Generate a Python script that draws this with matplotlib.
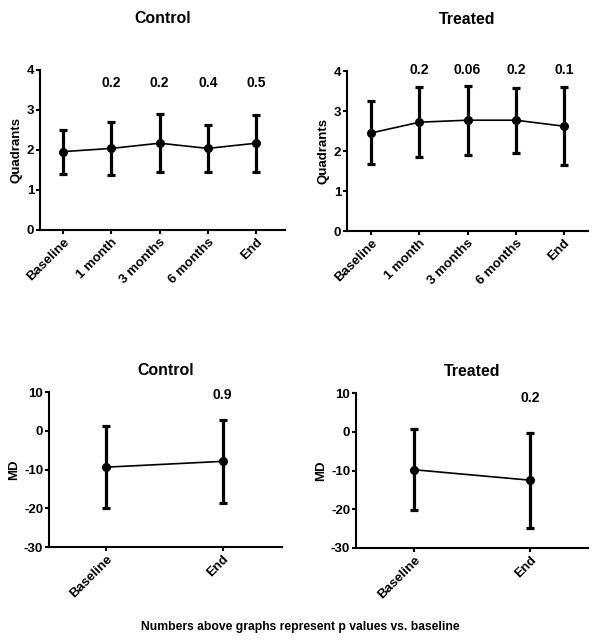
import matplotlib.pyplot as plt
import numpy as np

plt.rcParams['font.family'] = ['Liberation Sans', 'DejaVu Sans']
plt.rcParams['font.weight'] = 'bold'
plt.rcParams['axes.unicode_minus'] = False

# quadrant data
quad_labels = ['Baseline', '1 month', '3 months', '6 months', 'End']
ctrl_quad = [1.96, 2.04, 2.17, 2.04, 2.17]
ctrl_quad_hi = [2.50, 2.71, 2.89, 2.62, 2.87]
ctrl_quad_lo = [1.40, 1.37, 1.44, 1.45, 1.45]
ctrl_quad_p = ['', '0.2', '0.2', '0.4', '0.5']

treat_quad = [2.45, 2.72, 2.77, 2.77, 2.62]
treat_quad_hi = [3.24, 3.60, 3.63, 3.58, 3.59]
treat_quad_lo = [1.67, 1.84, 1.90, 1.96, 1.64]
treat_quad_p = ['', '0.2', '0.06', '0.2', '0.1']

# MD data
md_labels = ['Baseline', 'End']
ctrl_md = [-9.4, -7.9]
ctrl_md_hi = [1.1, 2.8]
ctrl_md_lo = [-19.9, -18.6]
ctrl_md_p = ['', '0.9']

treat_md = [-9.8, -12.5]
treat_md_hi = [0.7, -0.2]
treat_md_lo = [-20.2, -24.8]
treat_md_p = ['', '0.2']

W, H = 600, 641
fig = plt.figure(figsize=(W / 100, H / 100), dpi=100)


def make_ax(x0, x1, ytop, ybot):
    return fig.add_axes([x0 / W, 1 - ybot / H, (x1 - x0) / W, (ybot - ytop) / H])


def panel(ax, labels, mean, hi, lo, pvals, title, ylabel, ylim, yticks, ptext_y, xpad, tpad):
    x = np.arange(len(labels))
    mean = np.array(mean)
    err = [mean - np.array(lo), np.array(hi) - mean]
    ax.errorbar(x, mean, yerr=err, fmt='none', ecolor='black', elinewidth=2.3,
                capsize=2.6, capthick=2.3, zorder=2)
    ax.plot(x, mean, color='black', lw=1.2, marker='o', ms=5.5, zorder=3)
    for xi, p in zip(x, pvals):
        if p:
            ax.text(xi, ptext_y, p, ha='center', va='center', fontsize=10, fontweight='bold')
    ax.set_xlim(xpad[0], len(labels) - 1 + xpad[1])
    ax.set_ylim(*ylim)
    ax.set_yticks(yticks)
    ax.set_xticks(x)
    ax.set_xticklabels(labels, rotation=45, ha='right', rotation_mode='anchor')
    ax.set_ylabel(ylabel, fontsize=9.5, fontweight='bold', labelpad=3)
    ax.set_title(title, fontsize=11.4, fontweight='bold', pad=tpad)
    for s in ['top', 'right']:
        ax.spines[s].set_visible(False)
    for s in ['left', 'bottom']:
        ax.spines[s].set_linewidth(1.5)
    ax.tick_params(width=1.5, length=3.2, labelsize=9.5, pad=1)


ax1 = make_ax(40, 285, 70, 230)
panel(ax1, quad_labels, ctrl_quad, ctrl_quad_hi, ctrl_quad_lo, ctrl_quad_p,
      'Control', 'Quadrants', (0, 4), [0, 1, 2, 3, 4], 3.67, (-0.48, 0.6), 34)

ax2 = make_ax(347, 588, 71, 231)
panel(ax2, quad_labels, treat_quad, treat_quad_hi, treat_quad_lo, treat_quad_p,
      'Treated', 'Quadrants', (0, 4), [0, 1, 2, 3, 4], 4.03, (-0.5, 0.5), 34)

ax3 = make_ax(49, 282, 392, 547)
panel(ax3, md_labels, ctrl_md, ctrl_md_hi, ctrl_md_lo, ctrl_md_p,
      'Control', 'MD', (-30, 10), [-30, -20, -10, 0, 10], 9.3, (-0.49, 0.51), 12)

ax4 = make_ax(356, 588, 393, 548)
panel(ax4, md_labels, treat_md, treat_md_hi, treat_md_lo, treat_md_p,
      'Treated', 'MD', (-30, 10), [-30, -20, -10, 0, 10], 8.6, (-0.5, 0.5), 12)

fig.text(0.5, 1 - 627 / H, 'Numbers above graphs represent p values vs. baseline',
         ha='center', va='center', fontsize=8.7, fontweight='bold')

fig.savefig('out.png', dpi=100)
